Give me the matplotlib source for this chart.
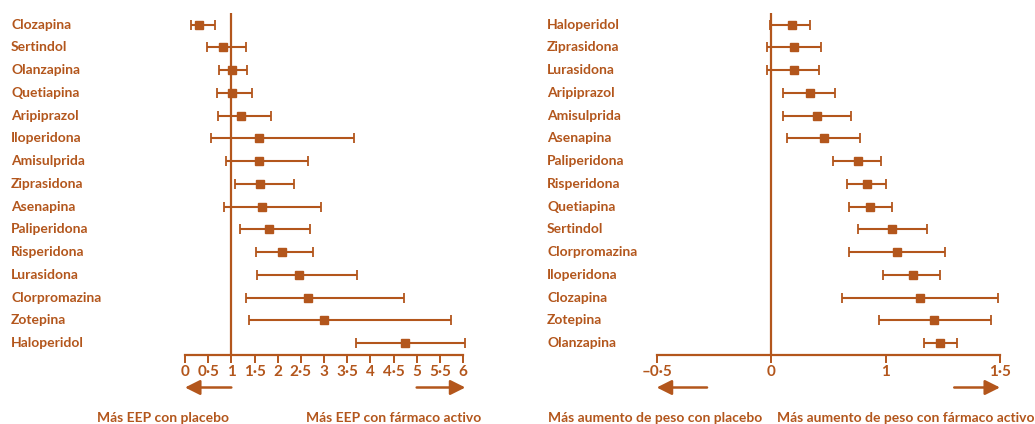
import matplotlib
matplotlib.use("Agg")
import matplotlib.pyplot as plt
from matplotlib.transforms import blended_transform_factory

plt.rcParams['font.family'] = ['Lato', 'DejaVu Sans']

BROWN = '#B3561C'

# EEP: odds ratio (IC 95%) frente a placebo
eep_drugs = ['Clozapina', 'Sertindol', 'Olanzapina', 'Quetiapina', 'Aripiprazol',
             'Iloperidona', 'Amisulprida', 'Ziprasidona', 'Asenapina', 'Paliperidona',
             'Risperidona', 'Lurasidona', 'Clorpromazina', 'Zotepina', 'Haloperidol']
eep_or = [0.30, 0.83, 1.01, 1.01, 1.20, 1.60, 1.60, 1.62, 1.66, 1.81,
          2.09, 2.46, 2.65, 2.99, 4.74]
eep_low = [0.13, 0.48, 0.73, 0.70, 0.72, 0.57, 0.89, 1.08, 0.84, 1.18,
           1.54, 1.55, 1.32, 1.39, 3.70]
eep_high = [0.65, 1.31, 1.33, 1.44, 1.85, 3.65, 2.65, 2.36, 2.93, 2.69,
            2.77, 3.71, 4.73, 5.75, 6.04]
eep_ticks = [0, 0.5, 1, 1.5, 2, 2.5, 3, 3.5, 4, 4.5, 5, 5.5, 6]
eep_ticklabels = ['0', '0·5', '1', '1·5', '2', '2·5', '3', '3·5', '4', '4·5',
                  '5', '5·5', '6']

# Aumento de peso: diferencia de medias estandarizada (IC 95%)
peso_drugs = ['Haloperidol', 'Ziprasidona', 'Lurasidona', 'Aripiprazol', 'Amisulprida',
              'Asenapina', 'Paliperidona', 'Risperidona', 'Quetiapina', 'Sertindol',
              'Clorpromazina', 'Iloperidona', 'Clozapina', 'Zotepina', 'Olanzapina']
peso_smd = [0.09, 0.10, 0.10, 0.17, 0.20, 0.23, 0.38, 0.42, 0.43, 0.53,
            0.55, 0.62, 0.65, 0.71, 0.74]
peso_low = [-0.004, -0.02, -0.02, 0.05, 0.05, 0.07, 0.27, 0.33, 0.34, 0.38,
            0.34, 0.49, 0.31, 0.47, 0.67]
peso_high = [0.17, 0.22, 0.21, 0.28, 0.35, 0.39, 0.48, 0.50, 0.53, 0.68,
             0.76, 0.74, 0.99, 0.96, 0.81]
peso_ticks = [-0.5, 0, 0.5, 1.0]
peso_ticklabels = ['\u20130·5', '0', '1', '1·5']

W, H = 1035, 424
fig = plt.figure(figsize=(W / 100, H / 100), dpi=100)

ax_top = 13.3
ax_bottom = 354.5


def forest(ax, drugs, est, low, high, ref, ticks, ticklabels, label_x):
    y = list(range(len(drugs)))
    xerr = [[e - l for e, l in zip(est, low)], [h - e for e, h in zip(est, high)]]
    ax.errorbar(est, y, xerr=xerr, fmt='s', color=BROWN, ms=5.8, elinewidth=1.5,
                capsize=3.5, capthick=1.3, clip_on=False, zorder=3)
    ax.axvline(ref, color=BROWN, lw=1.6, zorder=2)
    ax.set_ylim(len(drugs) - 0.5, -0.5)
    ax.set_yticks([])
    for s in ['top', 'right', 'left']:
        ax.spines[s].set_visible(False)
    ax.spines['bottom'].set_color(BROWN)
    ax.spines['bottom'].set_linewidth(1.6)
    ax.set_xticks(ticks)
    ax.set_xticklabels(ticklabels, fontsize=11, fontweight='bold', color=BROWN)
    ax.tick_params(axis='x', colors=BROWN, length=6, width=1.4, pad=1.5)
    tr = blended_transform_factory(fig.transFigure, ax.transData)
    for i, d in enumerate(drugs):
        ax.text(label_x / W, i, d, transform=tr, ha='left', va='center',
                fontsize=10, fontweight='bold', color=BROWN)


def arrows_and_labels(ax, left_arrow, right_arrow, left_text, right_text):
    tr = blended_transform_factory(ax.transData, ax.transAxes)
    ya = -(387.5 - ax_bottom) / (ax_bottom - ax_top)
    yt = -(417.5 - ax_bottom) / (ax_bottom - ax_top)
    for (x0, x1) in (left_arrow, right_arrow):
        ax.annotate('', xy=(x1, ya), xytext=(x0, ya), xycoords=tr, textcoords=tr,
                    arrowprops=dict(arrowstyle='-|>,head_length=0.9,head_width=0.45',
                                    color=BROWN, lw=1.8, shrinkA=0, shrinkB=0))
    ax.text(left_text[0], yt, left_text[1], transform=tr, ha='center', va='center',
            fontsize=10, fontweight='bold', color=BROWN)
    ax.text(right_text[0], yt, right_text[1], transform=tr, ha='center', va='center',
            fontsize=10, fontweight='bold', color=BROWN)


ax1 = fig.add_axes([185 / W, (H - ax_bottom) / H, 278 / W, (ax_bottom - ax_top) / H])
ax1.set_xlim(0, 6)
forest(ax1, eep_drugs, eep_or, eep_low, eep_high, 1, eep_ticks, eep_ticklabels, 11)
arrows_and_labels(ax1, (1, 0), (5, 6.05),
                  (-0.47, 'Más EEP con placebo'), (4.5, 'Más EEP con fármaco activo'))

ax2 = fig.add_axes([656.7 / W, (H - ax_bottom) / H, 343.3 / W, (ax_bottom - ax_top) / H])
ax2.set_xlim(-0.5, 1.0)
forest(ax2, peso_drugs, peso_smd, peso_low, peso_high, 0, peso_ticks, peso_ticklabels, 547)
arrows_and_labels(ax2, (-0.28, -0.5), (0.8, 1.0),
                  (-0.507, 'Más aumento de peso con placebo'),
                  (0.59, 'Más aumento de peso con fármaco activo'))

fig.savefig('out.png', dpi=100)
